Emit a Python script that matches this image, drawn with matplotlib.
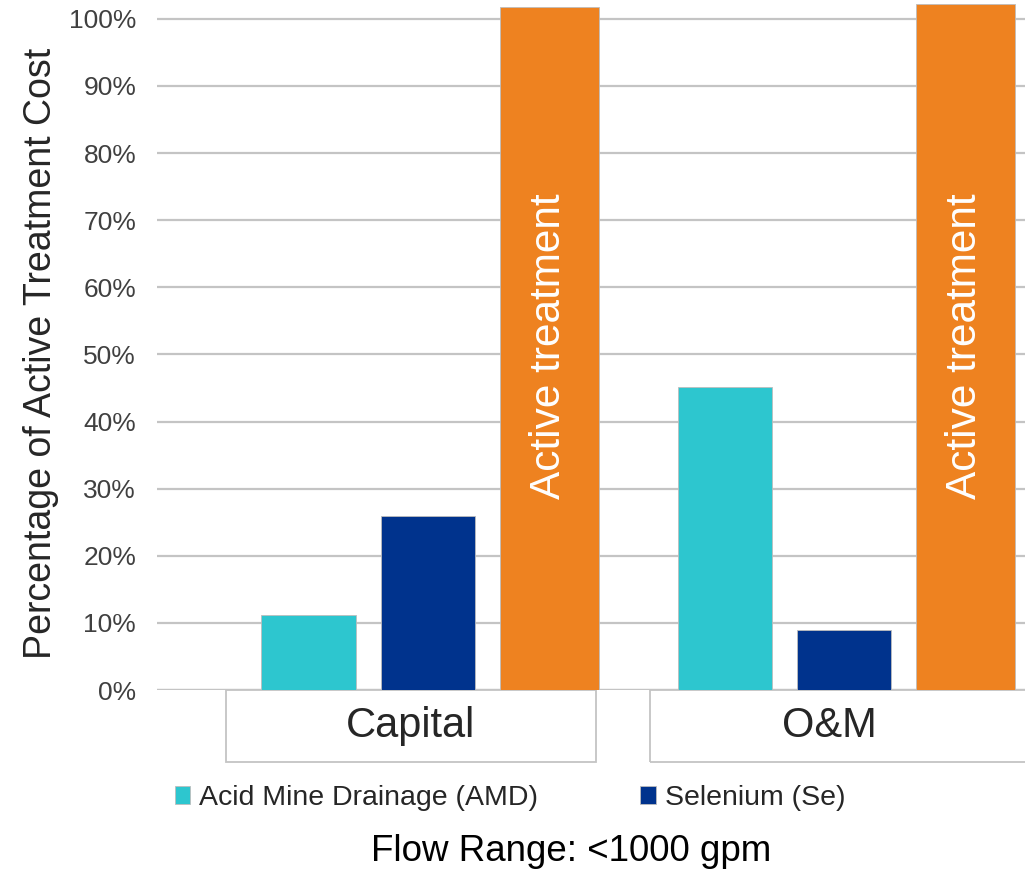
import numpy as np
import matplotlib.pyplot as plt
from matplotlib.patches import Rectangle

plt.rcParams['font.family'] = ['Liberation Sans', 'DejaVu Sans']

categories = ['Capital', 'O&M']
amd = [11.2, 45.2]
selenium = [25.9, 8.9]
active = [101.8, 102.2]

amd_color = '#2DC6CF'
se_color = '#00338D'
active_color = '#EE8220'
grid_color = '#c4c4c4'

fig = plt.figure(figsize=(10.25, 8.72), dpi=100)
ax = fig.add_axes([157 / 1025, 182 / 872, 868 / 1025, 690 / 872])

x = np.arange(len(categories))
w = 0.226
step = 0.286
ax.bar(x - step, amd, w, color=amd_color, edgecolor='#bdbdbd', linewidth=0.6,
       label='Acid Mine Drainage (AMD)', zorder=3)
ax.bar(x, selenium, w, color=se_color, edgecolor='#bdbdbd', linewidth=0.6,
       label='Selenium (Se)', zorder=3)
act = ax.bar(x + 0.292, active, 0.238, color=active_color, edgecolor='#bdbdbd',
             linewidth=0.6, zorder=3)

for rect in act:
    ax.text(rect.get_x() + rect.get_width() / 2, 51.2, 'Active treatment',
            rotation=90, ha='center', va='center', color='white', fontsize=30.5,
            zorder=4)

ax.set_ylim(0, 102.8)
ax.set_xlim(-0.65, 1.435)
ax.set_yticks(np.arange(0, 101, 10))
ax.set_yticklabels([f'{v}%' for v in range(0, 101, 10)], fontsize=19, color='#404040')
ax.tick_params(axis='y', length=0, pad=15)
ax.tick_params(axis='x', bottom=False, labelbottom=False)
ax.grid(axis='y', color=grid_color, linewidth=1.6, zorder=0)
for s in ax.spines.values():
    s.set_visible(False)
ax.axhline(0, color=grid_color, linewidth=1.6, zorder=2)

ax.set_ylabel('Percentage of Active Treatment Cost', fontsize=27, color='#262626')
ax.yaxis.set_label_coords(-0.113, 0.488)

# category boxes under the axis
box_h = 72 / 690
box_spans = [(-0.484, 0.404), (0.534, 1.6)]
cat_centers = [(-0.484 + 0.404) / 2, 0.966]
for cat, (x0, x1), cx in zip(categories, box_spans, cat_centers):
    ax.add_patch(Rectangle((x0, -box_h), x1 - x0, box_h, transform=ax.get_xaxis_transform(),
                           fill=False, edgecolor=grid_color, linewidth=1.3, clip_on=False))
    ax.text(cx, -box_h / 2, cat, transform=ax.get_xaxis_transform(), ha='center',
            va='center', fontsize=30, color='#262626')

fig.legend(loc='center left', bbox_to_anchor=(149 / 1025, 1 - 798 / 872), ncol=2,
           frameon=False, fontsize=20.5, handlelength=0.55, handleheight=0.55,
           handletextpad=0.3, columnspacing=3.6, labelcolor='#262626')

fig.text(571 / 1025, 1 - 851 / 872, 'Flow Range: <1000 gpm', ha='center', va='center',
         fontsize=26.5, color='black')

fig.savefig('out.png', dpi=100)
